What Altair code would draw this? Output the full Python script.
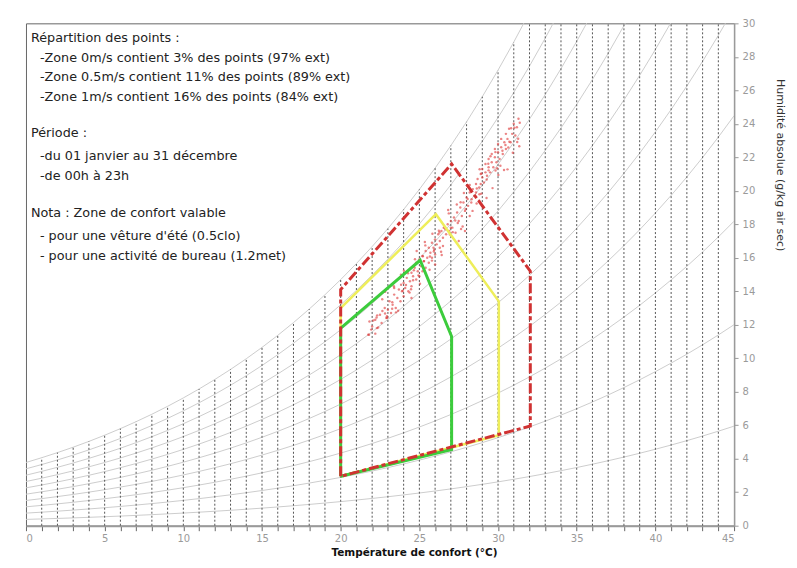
import altair as alt
import pandas as pd

# ---------------- data ----------------
temps = list(range(0, 46))
# saturation vapour pressure (kPa) at each integer temperature
psat_kpa = [0.6112, 0.6571, 0.7060, 0.7580, 0.8135, 0.8725, 0.9353, 1.0020, 1.0729, 1.1481,
            1.2280, 1.3128, 1.4026, 1.4979, 1.5987, 1.7055, 1.8185, 1.9380, 2.0643, 2.1978,
            2.3388, 2.4877, 2.6448, 2.8104, 2.9851, 3.1692, 3.3631, 3.5673, 3.7822, 4.0083,
            4.2460, 4.4959, 4.7585, 5.0343, 5.3239, 5.6278, 5.9466, 6.2810, 6.6315, 6.9987,
            7.3835, 7.7863, 8.2080, 8.6492, 9.1107, 9.5932]
rh_levels = [0.1, 0.2, 0.3, 0.4, 0.5, 0.6, 0.7, 0.8, 0.9, 1.0]
pressure_kpa = 101.325

zone_green_x = [20, 20, 25.05, 27.05, 27.05, 20]
zone_green_y = [2.95, 11.8, 15.85, 11.3, 4.55, 2.95]
zone_yellow_x = [20, 20, 26.05, 30.05, 30.05, 20]
zone_yellow_y = [2.95, 13.0, 18.6, 13.4, 5.4, 2.95]
zone_red_x = [20, 20, 27.05, 32.05, 32.05, 20]
zone_red_y = [2.95, 14.1, 21.6, 15.2, 5.95, 2.95]

# hourly comfort points (dense core of the cloud)
pts_x = [21.8, 22.0, 22.2, 22.3, 22.5, 22.6, 22.8, 22.9, 23.0, 23.1, 23.2, 23.3, 23.4, 23.5, 23.6,
         23.7, 23.8, 23.9, 24.0, 24.0,
         24.1, 24.2, 24.3, 24.4, 24.5, 24.5, 24.6, 24.7, 24.8, 24.8, 24.9, 25.0, 25.0, 25.1, 25.2,
         25.2, 25.3, 25.4, 25.4, 25.5, 25.6, 25.6, 25.7, 25.8, 25.8, 25.9, 26.0, 26.0, 26.1, 26.2,
         26.3, 26.3, 26.4, 26.5, 26.5,
         26.6, 26.7, 26.8, 26.9, 27.0, 27.1, 27.2,
         27.3, 27.4, 27.5, 27.6, 27.7, 27.8, 27.9, 28.0, 28.1, 28.2, 28.3, 28.4, 28.5,
         28.6, 28.6, 28.7, 28.8, 28.9, 28.9, 29.0, 29.0, 29.1, 29.2, 29.2, 29.3, 29.4, 29.4, 29.5,
         29.6, 29.6, 29.7, 29.8, 29.8, 29.9, 30.0, 30.0, 30.1, 30.2, 30.2, 30.3, 30.4, 30.5, 30.5,
         30.6, 30.7, 30.8, 30.9, 31.0, 31.1, 31.2, 31.3,
         27.5, 28.2, 26.0, 24.5, 28.8, 27.9]
pts_y = [11.4, 11.9, 12.3, 11.8, 12.6, 12.1, 13.0, 12.4, 12.9, 13.4, 12.7, 13.2, 13.8, 13.0, 13.6,
         14.1, 13.4, 14.0, 14.5, 13.7,
         14.2, 14.8, 14.0, 14.6, 15.1, 14.3, 14.9, 15.4, 14.7, 15.7, 15.2, 15.9, 14.9, 15.5, 16.1,
         15.2, 15.8, 16.4, 15.4, 16.0, 16.6, 15.7, 16.3, 16.9, 16.0, 16.6, 17.1, 16.2, 16.8, 17.4,
         16.6, 17.0, 17.6, 17.2, 16.7,
         17.8, 17.4, 18.0, 17.6, 18.2, 17.8, 18.4,
         17.5, 18.7, 18.2, 19.0, 18.5, 19.3, 18.8, 19.6, 19.1, 19.9, 19.3, 20.1, 19.7,
         20.4, 19.9, 20.7, 20.2, 21.0, 20.4, 20.8, 21.3, 20.5, 21.1, 21.6, 20.9, 21.4, 21.9, 21.1,
         21.7, 22.2, 21.4, 22.0, 22.5, 21.7, 22.3, 22.8, 21.9, 22.6, 23.1, 22.2, 22.9, 23.4, 22.5,
         23.1, 23.7, 22.9, 23.4, 24.0, 23.3, 23.8, 24.3,
         17.0, 18.5, 15.6, 13.6, 19.4, 17.6]

# hourly comfort points (diffuse part of the cloud)
pts2_x = [21.83, 21.94, 22.28, 22.38, 22.65, 22.83, 22.94, 23.28, 23.38, 23.65,
          23.83, 23.94, 24.28, 24.38, 24.65, 24.83, 24.94, 25.28, 25.38, 25.65,
          25.83, 25.94, 26.28, 26.38, 26.65, 26.83, 26.94, 27.28, 27.38, 27.65,
          27.83, 27.94, 28.28, 28.38, 28.65, 28.83, 28.94, 29.28, 29.38, 29.65,
          29.83, 29.94, 30.28, 30.38, 30.65, 30.83, 30.94, 31.28, 31.38,
          21.75, 22.07, 22.20, 22.32, 22.64, 22.82, 22.95, 23.27, 23.40, 23.52,
          23.84, 24.02, 24.15, 24.47, 24.60, 24.72, 25.04, 25.22, 25.35, 25.67,
          25.80, 25.92, 26.24, 26.42, 26.55, 26.87, 27.00, 27.12, 27.44, 27.62,
          27.75, 28.07, 28.20, 28.32, 28.64, 28.82, 28.95, 29.27, 29.40, 29.52,
          29.84, 30.02, 30.15, 30.47, 30.60, 30.72, 31.04, 31.22, 31.35]
pts2_y = [12.19, 11.71, 12.43, 11.84, 12.82, 13.97, 12.51, 13.35, 14.30, 12.84,
          14.99, 14.03, 15.07, 13.92, 15.26, 16.41, 14.95, 15.79, 16.74, 15.28,
          17.43, 16.47, 17.51, 16.36, 17.70, 18.85, 17.39, 18.23, 19.18, 17.72,
          19.87, 18.91, 19.95, 18.80, 20.14, 21.29, 19.83, 20.67, 21.62, 20.16,
          22.31, 21.35, 22.39, 21.24, 22.58, 23.73, 22.27, 23.11, 24.06,
          11.41, 12.25, 11.47, 12.56, 13.52, 12.67, 12.41, 12.95, 14.20, 12.74,
          14.39, 15.23, 14.37, 14.12, 14.66, 15.91, 14.45, 16.09, 16.94, 16.08,
          15.83, 16.37, 17.61, 16.16, 17.80, 18.65, 17.79, 17.53, 18.08, 19.32,
          17.87, 19.51, 20.35, 19.50, 19.24, 19.79, 21.03, 19.57, 21.22, 22.06,
          21.21, 20.95, 21.49, 22.74, 21.28, 22.93, 23.77, 22.91, 22.66]

note_lines = [
    "Répartition des points :",
    "-Zone 0m/s contient 3% des points (97% ext)",
    "-Zone 0.5m/s contient 11% des points (89% ext)",
    "-Zone 1m/s contient 16% des points (84% ext)",
    "Période :",
    "-du 01 janvier au 31 décembre",
    "-de 00h à 23h",
    "Nota : Zone de confort valable",
    "- pour une vêture d'été (0.5clo)",
    "- pour une activité de bureau (1.2met)",
]
x_title = "Température de confort (°C)"
y_title = "Humidité absolue (g/kg air sec)"

# ---------------- build tables ----------------
FONT = "DejaVu Sans"
W, H = 709, 503

def w_of(r, p):
    return 622.0 * r * p / (pressure_kpa - r * p)

curve_rows = []
for r in rh_levels:
    for t, p in zip(temps, psat_kpa):
        curve_rows.append({"t": t, "w": w_of(r, p), "rh": r})
curves = pd.DataFrame(curve_rows)

vert = pd.DataFrame([{"t": t, "y0": 0.0, "y1": min(w_of(1.0, p), 30.0)}
                     for t, p in zip(temps, psat_kpa) if 0 < t < 45])

pts = pd.DataFrame({"x": pts_x + pts2_x, "y": pts_y + pts2_y})

def zone_df(xs_, ys_):
    return pd.DataFrame({"x": xs_, "y": ys_, "i": list(range(len(xs_)))})

xs = alt.Scale(domain=[0, 45], nice=False, zero=False)
ys = alt.Scale(domain=[0, 30], nice=False, zero=False)

x_axis = alt.Axis(values=list(range(0, 46)), labelExpr="datum.value % 5 == 0 ? datum.label : ''",
                  grid=False, domainColor="#9a9a9a", domainWidth=2, tickColor="#666",
                  tickSize=5, labelColor="#9a9a9a", labelFontSize=10, labelFont=FONT,
                  labelPadding=3, title=None)
y_axis = alt.Axis(orient="right", values=list(range(0, 31, 2)), grid=False,
                  domainColor="#9a9a9a", domainWidth=1.5, tickColor="#9a9a9a", tickSize=4,
                  labelColor="#9a9a9a", labelFontSize=10, labelFont=FONT, labelPadding=4,
                  title=None)

def X(f):
    return alt.X(f, scale=xs, axis=x_axis)

def Y(f):
    return alt.Y(f, scale=ys, axis=y_axis)

curve_layer = alt.Chart(curves).mark_line(color="#cdcdcd", strokeWidth=1, clip=True).encode(
    x=X("t:Q"), y=Y("w:Q"), detail="rh:N", order="t:Q",
)

vert_layer = alt.Chart(vert).mark_rule(color="#555", strokeDash=[2, 2], strokeWidth=1).encode(
    x=X("t:Q"), y=Y("y0:Q"), y2="y1:Q",
)

pts_layer = alt.Chart(pts).mark_circle(color="#dd3535", size=6, opacity=0.6).encode(
    x=X("x:Q"), y=Y("y:Q"),
)

def zone_layer(xs_, ys_, color, width, dash=None):
    kw = dict(color=color, strokeWidth=width)
    if dash:
        kw["strokeDash"] = dash
    return alt.Chart(zone_df(xs_, ys_)).mark_line(**kw).encode(
        x=X("x:Q"), y=Y("y:Q"), order="i:Q",
    )

yellow = zone_layer(zone_yellow_x, zone_yellow_y, "#eeee5a", 2.5)
green = zone_layer(zone_green_x, zone_green_y, "#3ccc3c", 3)
red = zone_layer(zone_red_x, zone_red_y, "#d03232", 3, [10, 3, 4, 3])

note_y = [38, 58, 77, 97, 133, 156, 176, 213, 236, 256]
note_x = [31, 40, 40, 40, 31, 40, 40, 31, 40, 40]
note_layers = []
for txt, px, py in zip(note_lines, note_x, note_y):
    note_layers.append(
        alt.Chart(pd.DataFrame({"text": [txt]})).mark_text(
            align="left", baseline="middle", font=FONT, fontSize=12.8, color="#222"
        ).encode(x=alt.value(px - 26), y=alt.value(py - 23), text="text:N")
    )

xt = alt.Chart(pd.DataFrame({"text": [x_title]})).mark_text(
    font=FONT, fontSize=10.5, fontWeight="bold", color="#111", baseline="middle", align="center"
).encode(x=alt.value(415 - 26), y=alt.value(553 - 23), text="text:N")

yt = alt.Chart(pd.DataFrame({"text": [y_title]})).mark_text(
    font=FONT, fontSize=11, color="#333", baseline="middle", align="center", angle=90
).encode(x=alt.value(781 - 26), y=alt.value(165 - 23), text="text:N")

chart = alt.layer(curve_layer, vert_layer, pts_layer, yellow, green, red,
                  *note_layers, xt, yt).properties(
    width=W, height=H,
    autosize=alt.AutoSizeParams(type="none"),
    padding={"left": 18, "top": 15, "right": 55, "bottom": 38},
    background="white",
).configure_view(stroke="#666", strokeWidth=1)

chart.save("out.html", embed_options={"renderer": "svg", "actions": False})
